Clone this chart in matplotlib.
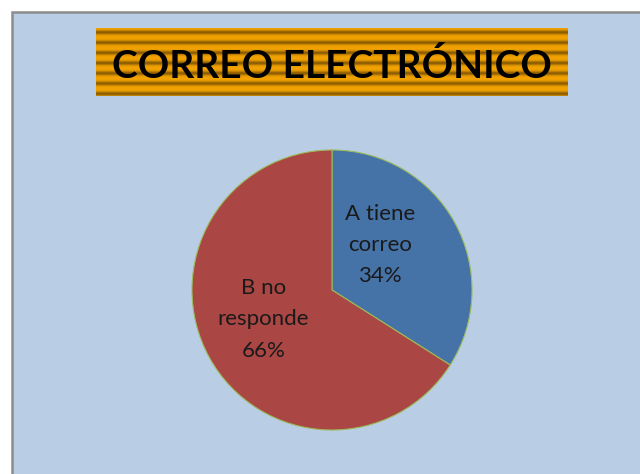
import numpy as np
import matplotlib.pyplot as plt
from matplotlib.patches import Rectangle
from matplotlib.colors import LinearSegmentedColormap

title = "CORREO ELECTRÓNICO"
labels = ["A tiene\ncorreo", "B no\nresponde"]
values = [34, 66]
colors = ["#4572a7", "#aa4643"]

fig = plt.figure(figsize=(6.4, 4.74), dpi=100)
fig.patch.set_facecolor("white")

# chart area background with grey border on left and top
fig.patches.append(Rectangle((11.5 / 640, -0.1), 1.2, (474 - 12.5) / 474 + 0.1,
                             transform=fig.transFigure, facecolor="#b9cde5",
                             edgecolor="#8c8c8c", linewidth=1.8, zorder=-5))

# title box with striped gold gradient
tax = fig.add_axes([96 / 640, (474 - 96) / 474, (568 - 96) / 640, 68 / 474])
rows = np.linspace(0, 1, 136)
stripe = ((1 - np.cos(2 * np.pi * (rows * 6.6 + 0.1))) / 2) ** 1.6
cmap = LinearSegmentedColormap.from_list("gold", ["#f2a300", "#d08c00", "#8a5b00"])
tax.imshow(stripe[:, None], aspect="auto", cmap=cmap, extent=[0, 1, 0, 1],
           interpolation="bilinear")
tax.set_xlim(0, 1)
tax.set_ylim(0, 1)
tax.axis("off")
tax.text(0.5, 0.44, title, ha="center", va="center", fontsize=28,
         fontweight="bold", family="Lato", color="#000000")

# pie
ax = fig.add_axes([(332 - 140) / 640, (474 - 430) / 474, 280 / 640, 280 / 474])
ax.pie(values, colors=colors, startangle=90, counterclock=False,
       wedgeprops=dict(edgecolor="#9bbb59", linewidth=0.8))
ax.set_xlim(-1, 1)
ax.set_ylim(-1, 1)
ax.set_aspect("equal")
ax.axis("off")

ax.text(0.345, 0.32, f"{labels[0]}\n{values[0]}%", ha="center", va="center",
        fontsize=16, family="Lato", color="#1a1a1a", linespacing=1.7)
ax.text(-0.49, -0.21, f"{labels[1]}\n{values[1]}%", ha="center", va="center",
        fontsize=16, family="Lato", color="#1a1a1a", linespacing=1.7)

fig.savefig("out.png", dpi=100, facecolor=fig.get_facecolor())
